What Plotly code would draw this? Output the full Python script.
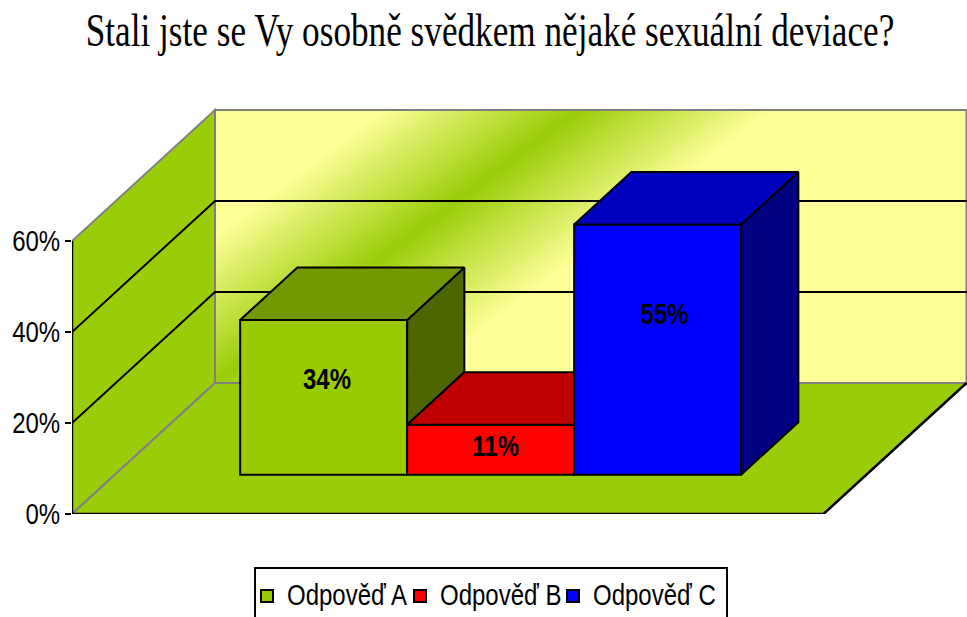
import base64
import plotly.graph_objects as go

# --- data ---
series_names = ["Odpověď A", "Odpověď B", "Odpověď C"]
series_values = [34, 11, 55]
tick_values = [0, 20, 40, 60]
chart_title = "Stali jste se Vy osobně svědkem nějaké sexuální deviace?"

# --- style ---
front_colors = ["#99CC00", "#FF0000", "#0000FF"]
top_colors = ["#739900", "#BF0000", "#0000BF"]
side_colors = ["#4D6600", "#800000", "#000080"]
label_lift = [0.59, 0.49, 0.625]      # label height as share of bar height
label_shift = [0.02, 0.03, 0.04]
WALL = "#9ACD09"
BACK = "#FFFF99"
GRAY = "#808080"
SANS = "Liberation Sans, Arial"

W, H = 967, 617
L, T, B = 72, 100, 103
BAR_PX = 167.0     # one bar width in pixels
PCT_PX = 4.55      # one percent in pixels
DEPTH_X = 143 / BAR_PX   # axis depth in x units
DEPTH_Y = 131 / PCT_PX   # axis depth in percent units
GAP = 0.75
D0, D1 = 0.3, 0.7
N = len(series_values)
FLOOR_W = N + 2 * GAP
TOP = max(tick_values)


def pr(x, h, d):
    return x + d * DEPTH_X, h + d * DEPTH_Y


def poly(points, fill=None, line="black", width=2):
    xs, ys = zip(*[pr(*p) for p in points])
    tr = dict(x=list(xs), y=list(ys), mode="lines", showlegend=False, hoverinfo="skip",
              line=dict(color=line, width=width))
    if fill:
        tr.update(fill="toself", fillcolor=fill)
    return go.Scatter(**tr)


def wall_shape(points, fill=None, line="black", width=2, closed=False):
    pts = [pr(*p) for p in points]
    path = "M " + " L ".join(f"{a:.5f} {b:.5f}" for a, b in pts) + (" Z" if closed else "")
    return dict(type="path", xref="x", yref="y", path=path, layer="between",
                line=dict(color=line, width=width), fillcolor=fill or "rgba(0,0,0,0)")


shapes = [
    wall_shape([(0, 0, 0), (0, TOP, 0), (0, TOP, 1), (0, 0, 1)], WALL, GRAY, 2, True),
    wall_shape([(0, 0, 0), (FLOOR_W, 0, 0), (FLOOR_W, 0, 1), (0, 0, 1)], WALL, GRAY, 2, True),
    wall_shape([(0, 0, 1), (0, TOP, 1), (FLOOR_W, TOP, 1), (FLOOR_W, 0, 1)], None, GRAY, 2),
]
for t in tick_values[1:-1]:
    shapes.append(wall_shape([(0, t, 0), (0, t, 1), (FLOOR_W, t, 1)]))
shapes.append(wall_shape([(0, 0, 0), (FLOOR_W, 0, 0), (FLOOR_W, 0, 1)], None, "black", 2.5))
shapes.append(wall_shape([(0, 0, 0), (0, TOP, 0)], None, "black", 2.5))

fig = go.Figure()

# bars' front faces (real bars, they feed the legend)
for i, (name, v) in enumerate(zip(series_names, series_values)):
    x0 = GAP + i
    fig.add_trace(go.Bar(x=[pr(x0 + 0.5, 0, D0)[0]], y=[v], base=[pr(0, 0, D0)[1]], width=1, name=name,
                         marker=dict(color=front_colors[i], line=dict(color="black", width=2)),
                         hoverinfo="skip"))

# bars' depth faces; hidden surfaces are cut away against the next bar
for i, v in enumerate(series_values):
    x0, x1 = GAP + i, GAP + i + 1
    next_v = series_values[i + 1] if i + 1 < N else 0
    if next_v < v:
        fig.add_trace(poly([(x1, next_v, D0), (x1, v, D0), (x1, v, D1), (x1, next_v, D1), (x1, next_v, D0)],
                           side_colors[i]))
        back_right = x1
    else:
        back_right = x1 - (D1 - D0) * DEPTH_X
    fig.add_trace(poly([(x0, v, D0), (x1, v, D0), (back_right, v, D1), (x0, v, D1), (x0, v, D0)], top_colors[i]))

# value labels
lx, ly = [], []
for i, v in enumerate(series_values):
    px, py = pr(GAP + i + 0.5 + label_shift[i], v * label_lift[i], D0)
    lx.append(px)
    ly.append(py)
fig.add_trace(go.Scatter(x=lx, y=ly, mode="text", text=[f"{v}%" for v in series_values], showlegend=False,
                         hoverinfo="skip", textposition="middle center",
                         textfont=dict(family=SANS, size=24, color="black", weight=700)))

# back-wall gradient, as an image placed through the axes
wall_w = FLOOR_W * BAR_PX
wall_h = TOP * PCT_PX
nx, ny, half = 0.601, 0.799, 120
svg = (f'<svg xmlns="http://www.w3.org/2000/svg" viewBox="0 0 {wall_w:.0f} {wall_h:.0f}" preserveAspectRatio="none">'
       f'<defs><linearGradient id="g" gradientUnits="userSpaceOnUse" '
       f'x1="{-half*nx:.1f}" y1="{wall_h-half*ny:.1f}" x2="{half*nx:.1f}" y2="{wall_h+half*ny:.1f}">'
       f'<stop offset="0" stop-color="{BACK}"/><stop offset="0.5" stop-color="{WALL}"/>'
       f'<stop offset="1" stop-color="{BACK}"/></linearGradient></defs>'
       f'<rect width="100%" height="100%" fill="url(#g)"/></svg>')
src = "data:image/svg+xml;base64," + base64.b64encode(svg.encode()).decode()
ix, iy = pr(0, TOP, 1)

plot_w = W - L
plot_h = H - T - B
shapes.append(dict(type="rect", xref="paper", yref="paper", x0=(255 - L) / plot_w, x1=(727 - L) / plot_w,
                   y0=(514 - 640) / plot_h, y1=(514 - 568) / plot_h, line=dict(color="black", width=2),
                   fillcolor="rgba(0,0,0,0)"))

fig.update_layout(
    width=W, height=H, margin=dict(l=L, r=0, t=T, b=B, pad=0, autoexpand=False),
    paper_bgcolor="white", plot_bgcolor="rgba(0,0,0,0)", barmode="overlay",
    title=dict(text=chart_title, x=490 / W, xanchor="center", y=1 - 30 / H, yanchor="middle",
               font=dict(family="Liberation Serif, Times New Roman", size=35.2, color="black")),
    xaxis=dict(range=[0, plot_w / BAR_PX], visible=False, fixedrange=True),
    yaxis=dict(range=[0, plot_h / PCT_PX], tickvals=tick_values, ticktext=[f"{t}%" for t in tick_values],
               showgrid=False, zeroline=False, showline=False, ticks="outside", ticklen=6, tickwidth=2,
               tickcolor="black", fixedrange=True, tickfont=dict(family=SANS, size=24, color="black")),
    legend=dict(orientation="h", x=(247 - L) / plot_w, xanchor="left", y=(514 - 574) / plot_h, yanchor="top",
                font=dict(family=SANS, size=24, color="black"), bgcolor="rgba(0,0,0,0)", traceorder="normal",
                entrywidth=108, entrywidthmode="pixels"),
    images=[dict(source=src, xref="x", yref="y", x=ix, y=iy, sizex=FLOOR_W, sizey=TOP,
                 sizing="stretch", layer="below", xanchor="left", yanchor="top")],
    shapes=shapes,
)

# the reference's lettering is tall and narrow: stretch the real text about its baseline
post = """
document.body.style.margin='0';document.body.style.overflow='hidden';
document.querySelectorAll('.legend .scrollbox').forEach(function(e){e.removeAttribute('clip-path');});
document.querySelectorAll('.legend').forEach(function(e){e.style.overflow='visible';});
[['.gtitle',1.33,0],['.ytick text',1.25,2],['.legendtext',1.25,0],['.textpoint text',1.2,0]].forEach(function(p){
  document.querySelectorAll(p[0]).forEach(function(el){
    var x=parseFloat(el.getAttribute('x'))||0, y=parseFloat(el.getAttribute('y'))||0;
    var old=el.getAttribute('transform')||'';
    el.setAttribute('transform', old+' translate('+x+','+(y+p[2])+') scale(1,'+p[1]+') translate('+(-x)+','+(-y)+')');
  });
});
"""
fig.write_html("out.html", config={"displayModeBar": False}, post_script=post)
